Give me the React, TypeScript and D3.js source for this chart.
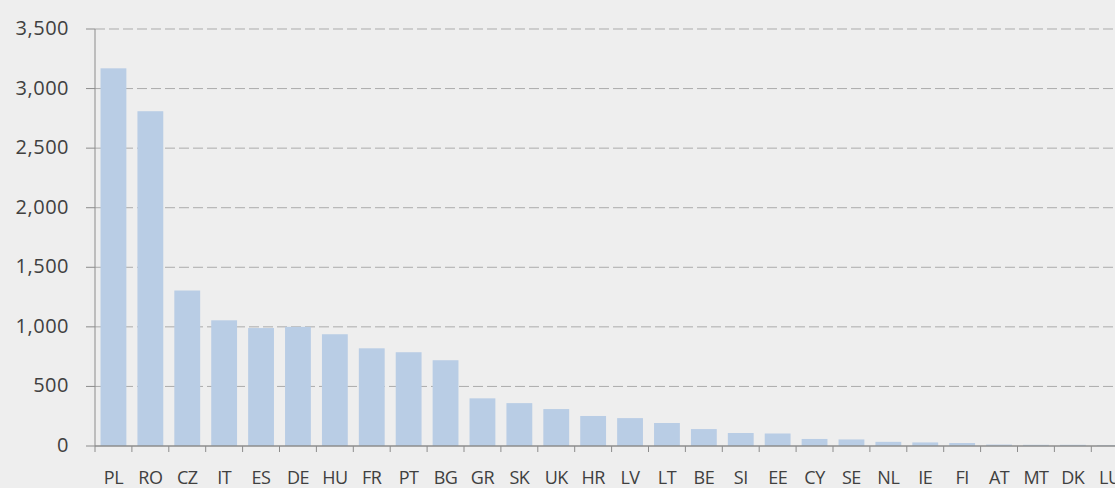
import React, { useEffect, useRef } from "react";
import * as d3 from "d3";

const countries = [
  "PL", "RO", "CZ", "IT", "ES", "DE", "HU", "FR", "PT", "BG", "GR", "SK", "UK", "HR",
  "LV", "LT", "BE", "SI", "EE", "CY", "SE", "NL", "IE", "FI", "AT", "MT", "DK", "LU",
];
const values = [
  3170, 2810, 1305, 1055, 990, 1000, 938, 820, 787, 720, 400, 360, 310, 252,
  234, 193, 142, 109, 105, 59, 55, 35, 30, 25, 12, 10, 10, 6,
];
const yTicks = [0, 500, 1000, 1500, 2000, 2500, 3000, 3500];

const App: React.FC = () => {
  const svgRef: any = useRef();

  useEffect(() => {
    const svg = d3.select(svgRef.current);
    svg.selectAll("*").remove();

    const width = 1115;
    const height = 488;
    const left = 95;
    const step = 36.9;
    const top = 29;
    const bottom = 446;

    svg.append("rect").attr("width", width).attr("height", height).attr("fill", "#eeeeee");

    const x = d3
      .scaleBand()
      .domain(countries)
      .range([left, left + step * countries.length])
      .paddingInner(0.3)
      .paddingOuter(0.15);

    const y = d3.scaleLinear().domain([0, 3500]).range([bottom, top]);

    // gridlines + y labels
    yTicks.forEach((t) => {
      if (t > 0) {
        svg
          .append("line")
          .attr("x1", left)
          .attr("x2", width)
          .attr("y1", y(t))
          .attr("y2", y(t))
          .attr("stroke", "#ababab")
          .attr("stroke-width", 1)
          .attr("stroke-dasharray", "10,4");
      }
      svg
        .append("line")
        .attr("x1", left - 9)
        .attr("x2", left)
        .attr("y1", y(t))
        .attr("y2", y(t))
        .attr("stroke", "#8c8c8c")
        .attr("stroke-width", 1);

      svg
        .append("text")
        .attr("x", 69)
        .attr("y", y(t))
        .attr("dy", "0.3em")
        .attr("text-anchor", "end")
        .attr("font-family", "'Open Sans', sans-serif")
        .attr("font-size", "20px")
        .attr("letter-spacing", "0.5px")
        .attr("fill", "#404040")
        .text(d3.format(",")(t));
    });

    // bars
    svg
      .selectAll(".bar")
      .data(countries)
      .enter()
      .append("rect")
      .attr("x", (d) => x(d) as number)
      .attr("y", (d, i) => y(values[i]))
      .attr("width", x.bandwidth())
      .attr("height", (d, i) => bottom - y(values[i]))
      .attr("fill", "#b9cde5");

    // axis lines
    svg
      .append("line")
      .attr("x1", left)
      .attr("x2", left)
      .attr("y1", top)
      .attr("y2", bottom)
      .attr("stroke", "#8c8c8c")
      .attr("stroke-width", 1);

    svg
      .append("line")
      .attr("x1", left)
      .attr("x2", width)
      .attr("y1", bottom)
      .attr("y2", bottom)
      .attr("stroke", "#8c8c8c")
      .attr("stroke-width", 1.5);

    // category ticks and labels
    countries.forEach((c, i) => {
      const bx = left + step * i;
      svg
        .append("line")
        .attr("x1", bx)
        .attr("x2", bx)
        .attr("y1", bottom)
        .attr("y2", bottom + 6)
        .attr("stroke", "#8c8c8c")
        .attr("stroke-width", 1);

      svg
        .append("text")
        .attr("x", (x(c) as number) + x.bandwidth() / 2)
        .attr("y", 484)
        .attr("text-anchor", "middle")
        .attr("font-family", "'Open Sans', sans-serif")
        .attr("font-size", "18px")
        .attr("letter-spacing", "-0.5px")
        .attr("fill", "#404040")
        .text(c);
    });
  }, []);

  return (
    <svg
      ref={svgRef}
      width={1115}
      height={488}
      style={{ position: "absolute", left: 0, top: 0 }}
    />
  );
};

export default App;
